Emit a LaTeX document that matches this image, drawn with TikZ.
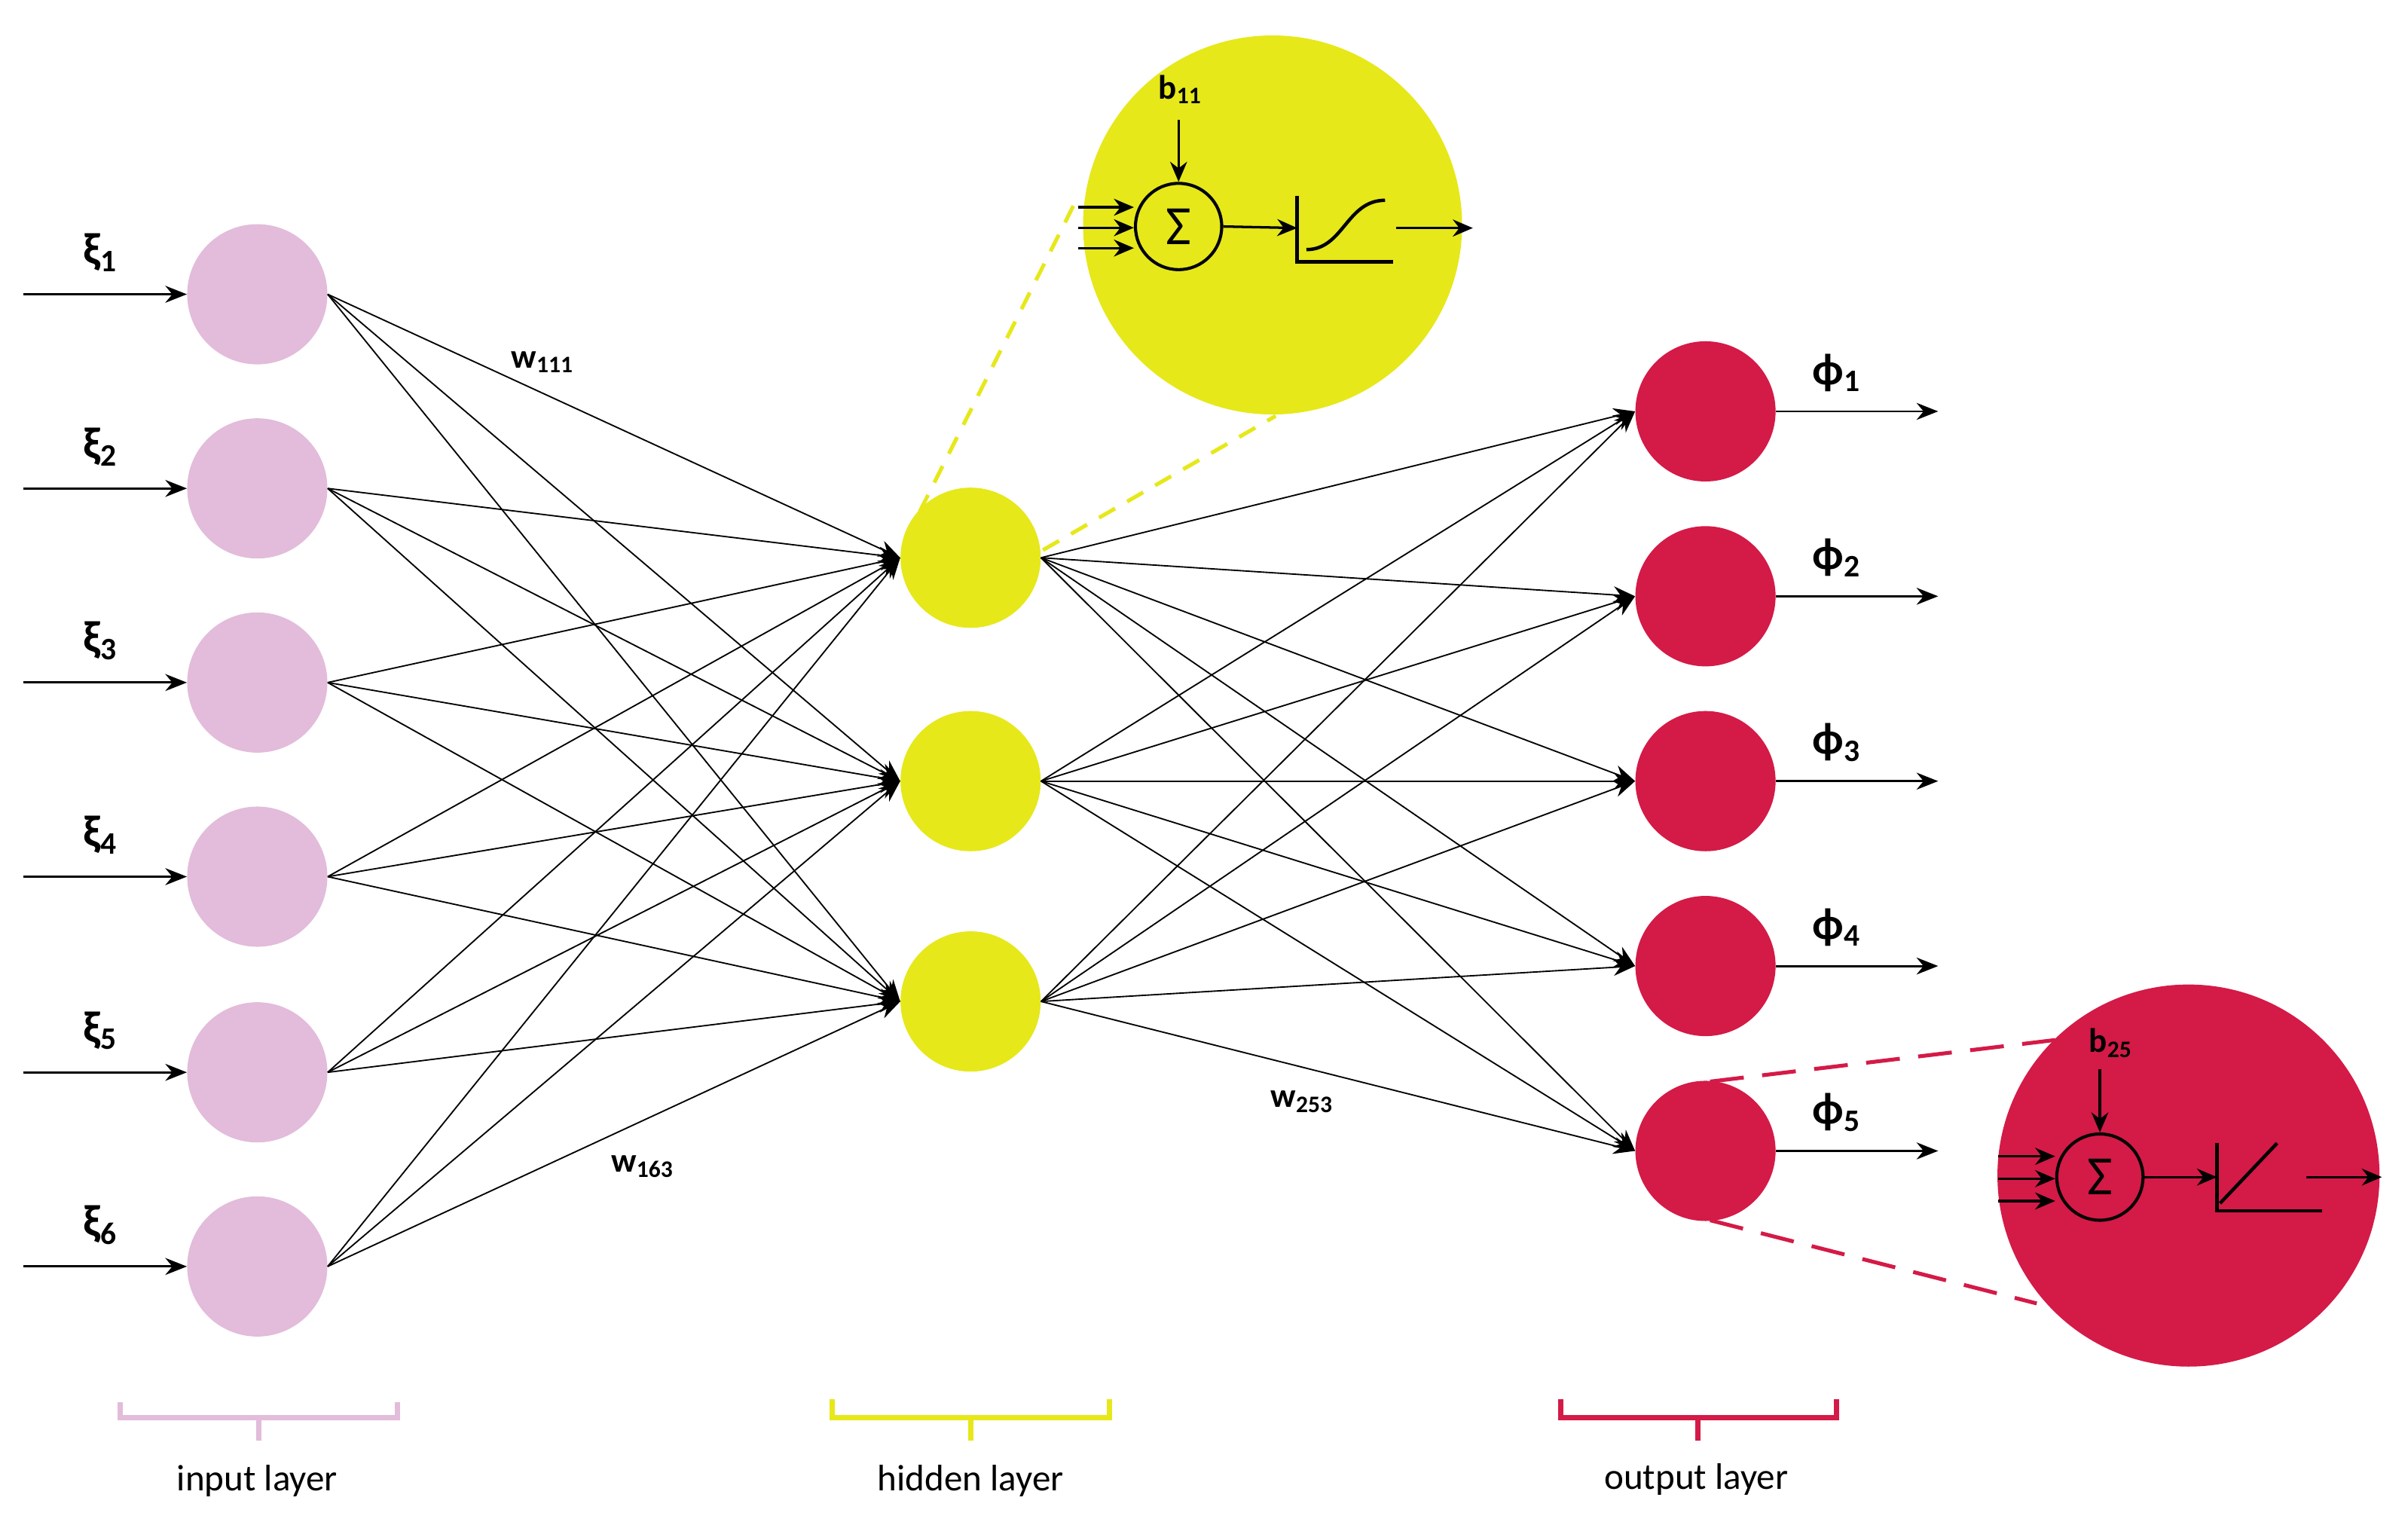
\documentclass[tikz,border=0pt]{standalone}
\usepackage{fontspec}
\setmainfont{Carlito}
\usetikzlibrary{arrows.meta}
\definecolor{pinkc}{HTML}{E2BCDA}
\definecolor{yelc}{HTML}{E6E81A}
\definecolor{redc}{HTML}{D41A47}
\begin{document}
\begin{tikzpicture}[x=1pt,y=-1pt,
  neuron/.style={circle,minimum size=91pt,inner sep=0pt},
  inn/.style={neuron,fill=pinkc},
  hid/.style={neuron,fill=yelc},
  outn/.style={neuron,fill=redc},
  edge/.style={line width=0.9pt,-{Stealth[length=14pt,width=11pt]}},
  io/.style={line width=1.4pt,-{Stealth[length=14pt,width=11pt]}},
  lab/.style={font=\fontsize{29}{32}\bfseries\selectfont,inner sep=0pt},
  wlab/.style={font=\fontsize{22}{24}\bfseries\selectfont,inner sep=0pt},
  llab/.style={font=\fontsize{24}{28}\selectfont,inner sep=0pt},
  sm/.style={line width=1.6pt,-{Stealth[length=13pt,width=11pt]}},
  sumn/.style={circle,draw,line width=2pt,minimum size=56pt,inner sep=0pt,font=\fontsize{36}{38}\selectfont},
  blab/.style={font=\fontsize{22}{24}\bfseries\selectfont,inner sep=0pt},
  brk/.style={line width=3.5pt}]
\useasboundingbox (0,0) rectangle (1563,985.5);
% input nodes
\foreach \i/\y in {1/191,2/317,3/443,4/569,5/696,6/822}{
  \node[inn] (i\i) at (167,\y) {};
  \coordinate (s\i) at (15,\y);
  \draw[io] (s\i) -- (i\i.west);
  \node[lab] (xl\i) at (65,\y-27) {ξ\textsubscript{\i}};
}
\foreach \j/\y in {1/362,2/507,3/650}{\node[hid] (h\j) at (630,\y) {};}
\foreach \k/\y in {1/267,2/387,3/507,4/627,5/747}{
  \node[outn] (o\k) at (1107,\y) {};
  \coordinate (e\k) at (1258,\y);
  \draw[io] (o\k.east) -- (e\k);
  \node[lab] (pl\k) at (1192,\y-25) {ϕ\textsubscript{\k}};
}
\foreach \i in {1,...,6}{\foreach \j in {1,2,3}{\draw[edge] (i\i.east) -- (h\j.west);}}
\foreach \j in {1,2,3}{\foreach \k in {1,...,5}{\draw[edge] (h\j.east) -- (o\k.west);}}
\node[wlab] (w1) at (352,235) {w\textsubscript{111}};
\node[wlab] (w2) at (417,757) {w\textsubscript{163}};
\node[wlab] (w3) at (845,715) {w\textsubscript{253}};
% yellow zoom
\node[circle,fill=yelc,minimum size=246pt,inner sep=0pt] (Y) at (826,146) {};
\coordinate (ya) at (597,332); \coordinate (yb) at (697,133);
\coordinate (yc) at (677,357); \coordinate (yd) at (828,270);
\draw[yelc,line width=2.5pt,dash pattern=on 12pt off 9pt] (ya) -- (yb);
\draw[yelc,line width=2.5pt,dash pattern=on 12pt off 9pt] (yc) -- (yd);
\node[sumn] (S1) at (765,147) {Σ};
\node[blab] (b1) at (766,58) {b\textsubscript{11}};
\coordinate (b1s) at (765,78);
\draw[sm] (b1s) -- (S1.north);
\foreach \y [count=\n] in {134.5,147.8,161}{\coordinate (ys\n) at (700,\y); \draw[sm] (ys\n) -- (S1.west |- ys\n);}
\coordinate (ax1) at (842,148);
\draw[sm] (S1.east) -- (ax1);
\draw[line width=2.2pt] (842,127) -- (842,170) -- (904,170);
\draw[line width=2.2pt] (848,162) .. controls (872,162) and (874,130) .. (899,130);
\coordinate (yo1) at (906,148); \coordinate (yo2) at (956,148);
\draw[sm] (yo1) -- (yo2);
% red zoom
\node[circle,fill=redc,minimum size=248pt,inner sep=0pt] (R) at (1420.5,763) {};
\coordinate (ra) at (1110,702); \coordinate (rb) at (1334,675);
\coordinate (rc) at (1110,792); \coordinate (rd) at (1322,846);
\draw[redc,line width=2.5pt,dash pattern=on 22pt off 12pt] (ra) -- (rb);
\draw[redc,line width=2.5pt,dash pattern=on 22pt off 12pt] (rc) -- (rd);
\node[sumn] (S2) at (1363,764) {Σ};
\node[blab] (b2) at (1370,677) {b\textsubscript{25}};
\coordinate (b2s) at (1363,694);
\draw[sm] (b2s) -- (S2.north);
\foreach \y [count=\n] in {750.5,765,779.5}{\coordinate (rs\n) at (1297,\y); \draw[sm] (rs\n) -- (S2.west |- rs\n);}
\coordinate (ax2) at (1439,764);
\draw[sm] (S2.east) -- (ax2);
\draw[line width=2.2pt] (1439,742) -- (1439,786) -- (1507,786);
\draw[line width=2.2pt] (1441,781) -- (1478,742);
\coordinate (ro1) at (1497,764); \coordinate (ro2) at (1546,764);
\draw[sm] (ro1) -- (ro2);
% brackets
\draw[brk,pinkc] (78,910) -- (78,920) -- (258,920) -- (258,910) (168,920) -- (168,935);
\draw[brk,yelc] (540,908) -- (540,920) -- (720,920) -- (720,908) (630,920) -- (630,935);
\draw[brk,redc] (1013,908) -- (1013,920) -- (1192,920) -- (1192,908) (1102,920) -- (1102,935);
\node[llab] (L1) at (167,961) {input layer};
\node[llab] (L2) at (630,961) {hidden layer};
\node[llab] (L3) at (1101,960) {output layer};
\end{tikzpicture}
\end{document}
